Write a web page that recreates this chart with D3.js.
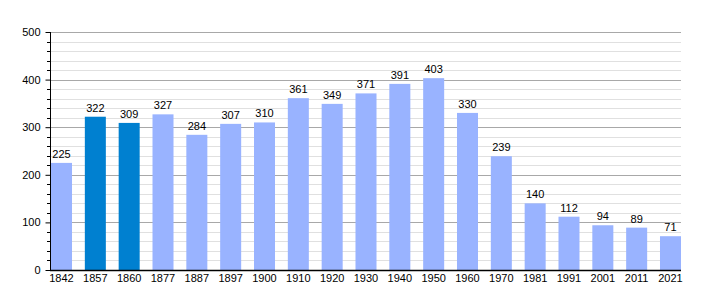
<!DOCTYPE html>
<html>
<head>
<meta charset="utf-8">
<script src="https://cdn.jsdelivr.net/npm/d3@7"></script>
<style>
  body { margin: 0; background: #fff; }
  svg text { font-family: "Liberation Sans", Arial, sans-serif; font-size: 11px; fill: #000; }
</style>
</head>
<body>
<svg id="chart" width="710" height="300"></svg>
<script>
var years = ['1842', '1857', '1860', '1877', '1887', '1897', '1900', '1910', '1920', '1930', '1940', '1950', '1960', '1970', '1981', '1991', '2001', '2011', '2021'];
var population = [225, 322, 309, 327, 284, 307, 310, 361, 349, 371, 391, 403, 330, 239, 140, 112, 94, 89, 71];
var highlighted = ['1857', '1860'];
var yTicks = [0, 100, 200, 300, 400, 500];

var svg = d3.select('#chart');
var margin = { left: 50, right: 29, top: 32, bottom: 30 };
var width = 710, height = 300;

var x = d3.scaleBand().domain(years).range([margin.left + 1, width - margin.right]).paddingInner(0.379).paddingOuter(0);
var y = d3.scaleLinear().domain([0, 500]).range([height - margin.bottom, margin.top]);

var minor = d3.range(0, 501, 20).filter(function(v){ return v % 100 !== 0; });

// minor grid
svg.append('g').selectAll('line').data(minor).enter().append('line')
  .attr('x1', margin.left).attr('x2', width - margin.right)
  .attr('y1', function(d){ return Math.round(y(d)) + 0.5; })
  .attr('y2', function(d){ return Math.round(y(d)) + 0.5; })
  .attr('stroke', '#e0e0e0');
// major grid
svg.append('g').selectAll('line').data(yTicks.slice(1)).enter().append('line')
  .attr('x1', margin.left).attr('x2', width - margin.right)
  .attr('y1', function(d){ return Math.round(y(d)) + 0.5; })
  .attr('y2', function(d){ return Math.round(y(d)) + 0.5; })
  .attr('stroke', '#a8a8a8');

// bars
svg.append('g').selectAll('rect').data(years).enter().append('rect')
  .attr('x', function(d){ return x(d); })
  .attr('width', x.bandwidth())
  .attr('y', function(d, i){ return y(population[i]); })
  .attr('height', function(d, i){ return y(0) - y(population[i]); })
  .attr('fill', function(d){ return highlighted.indexOf(d) >= 0 ? '#0080d0' : '#99b3ff'; });

// value labels
svg.append('g').selectAll('text').data(years).enter().append('text')
  .attr('x', function(d){ return x(d) + x.bandwidth() / 2; })
  .attr('y', function(d, i){ return y(population[i]) - 5; })
  .attr('text-anchor', 'middle')
  .text(function(d, i){ return population[i]; });

// y axis with minor ticks
var yAxis = d3.axisLeft(y).tickValues(yTicks).tickSize(5).tickPadding(5);
var ga = svg.append('g').attr('transform', 'translate(' + (margin.left + 0.5) + ',0)').call(yAxis);
ga.select('.domain').remove();
ga.selectAll('.tick text').attr('font-size', null).attr('font-family', null);
ga.selectAll('.tick line').attr('stroke', '#000');
svg.append('g').selectAll('line').data(minor).enter().append('line')
  .attr('x1', margin.left - 3).attr('x2', margin.left)
  .attr('y1', function(d){ return Math.round(y(d)) + 0.5; })
  .attr('y2', function(d){ return Math.round(y(d)) + 0.5; })
  .attr('stroke', '#000');
svg.append('line')
  .attr('x1', margin.left + 0.5).attr('x2', margin.left + 0.5)
  .attr('y1', y(500)).attr('y2', y(0))
  .attr('stroke', '#000');
// x baseline
svg.append('line')
  .attr('x1', margin.left).attr('x2', width - margin.right)
  .attr('y1', y(0) + 0.5).attr('y2', y(0) + 0.5)
  .attr('stroke', '#000').attr('stroke-width', 1.5);

// x labels
svg.append('g').selectAll('text').data(years).enter().append('text')
  .attr('x', function(d){ return x(d) + x.bandwidth() / 2; })
  .attr('y', height - margin.bottom + 12)
  .attr('text-anchor', 'middle')
  .text(function(d){ return d; });
</script>
</body>
</html>
